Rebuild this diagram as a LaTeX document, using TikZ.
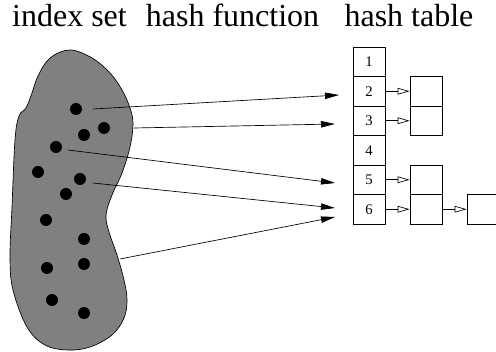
\documentclass[tikz,border=0pt]{standalone}
\usepackage{fontspec}
\setmainfont{Liberation Serif}
\usetikzlibrary{arrows.meta}
\begin{document}
\begin{tikzpicture}[x=0.75pt,y=-0.75pt,
  title/.style={anchor=base,inner sep=0pt,font=\fontsize{24}{28}\selectfont},
  cell/.style={draw,line width=0.6pt,minimum width=24pt,minimum height=22.125pt,inner sep=0pt,font=\fontsize{11}{13}\selectfont},
  dot/.style={circle,fill=black,minimum size=9pt,inner sep=0pt},
  hasharrow/.style={line width=0.5pt,-{Triangle[length=10.5pt,width=4.8pt]}},
  chainarrow/.style={line width=0.5pt,-{Triangle[open,length=9pt,width=5pt]}}]
\useasboundingbox (0,0) rectangle (496,352);
% titles
\node[title] (t1) at (69.5,27) {index set};
\node[title] (t2) at (232.5,27) {hash function};
\node[title] (t3) at (409,27) {hash table};
% blob
\draw[fill=black!50,line width=0.5pt] plot[smooth cycle,tension=0.6] coordinates {
  (70,50) (92,58) (110,73) (122,90) (130,108) (133,124) (130,147) (122,173)
  (112,195) (106,215) (109,232) (117,255) (124,280) (127,300) (124,318)
  (112,335) (90,347) (68,350) (45,345) (27,327) (13,290) (10,257) (12,207)
  (15,140) (19,116) (26,108) (32,93) (38,76) (50,58)};
% dots
\foreach \i/\p in {1/{(76,109)},2/{(104,128)},3/{(84,135)},4/{(56,147)},5/{(38,172)},
  6/{(80,179)},7/{(66,194)},8/{(46,220)},9/{(84,239)},10/{(47,268)},11/{(84,264)},
  12/{(52,300)},13/{(84,313)}}
  \node[dot] (d\i) at \p {};
% table
\foreach \i in {1,...,6}
  \node[cell] (c\i) at (369,{47+29.5*(\i-0.5)}) {\i};
\node[cell] (b2) at (426,91.25) {};
\node[cell] (b3) at (426,120.75) {};
\node[cell] (b5) at (426,179.75) {};
\node[cell] (b6) at (426,209.25) {};
\node[cell,minimum width=33pt] (b7) at (489,209.25) {};
\draw[chainarrow] (c2.east) -- (b2.west);
\draw[chainarrow] (c3.east) -- (b3.west);
\draw[chainarrow] (c5.east) -- (b5.west);
\draw[chainarrow] (c6.east) -- (b6.west);
\draw[chainarrow] (b6.east) -- (b7.west);
% hash function arrows
\coordinate (s1) at (93,109);
\coordinate (s2) at (134,128);
\coordinate (s3) at (68,150);
\coordinate (s4) at (93,183);
\coordinate (s5) at (120,259);
\coordinate (e1) at (339,95);
\coordinate (e2) at (335,124);
\coordinate (e3) at (335,183);
\coordinate (e4) at (335,208);
\coordinate (e5) at (335,217);
\draw[hasharrow] (s1) -- (e1);
\draw[hasharrow] (s2) -- (e2);
\draw[hasharrow] (s3) -- (e3);
\draw[hasharrow] (s4) -- (e4);
\draw[hasharrow] (s5) -- (e5);
\end{tikzpicture}
\end{document}
